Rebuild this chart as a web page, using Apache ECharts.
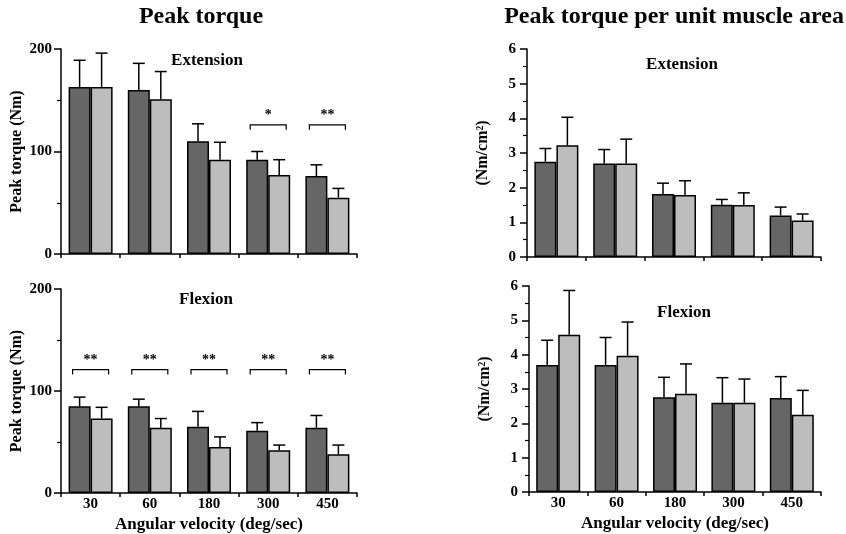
<!DOCTYPE html>
<html>
<head>
<meta charset="utf-8">
<script src="https://cdn.jsdelivr.net/npm/echarts@6/dist/echarts.min.js"></script>
<style>
body{margin:0;background:#fff}
#main{width:846px;height:534px}
</style>
</head>
<body>
<div id="main"></div>
<script>
var categories = ['30', '60', '180', '300', '450'];

// peak torque (Nm), dark bars / light bars, mean and SD
var extTorqueDark = [163, 160, 110, 92, 76];
var extTorqueDarkSD = [26, 26, 17, 8, 11];
var extTorqueLight = [163, 151, 92, 77, 55];
var extTorqueLightSD = [33, 27, 17, 15, 9];

var flexTorqueDark = [85, 85, 65, 61, 64];
var flexTorqueDarkSD = [9, 7, 15, 8, 12];
var flexTorqueLight = [73, 64, 45, 42, 38];
var flexTorqueLightSD = [11, 9, 10, 5, 9];

// peak torque per unit muscle area (Nm/cm2)
var extAreaDark = [2.75, 2.7, 1.82, 1.51, 1.2];
var extAreaDarkSD = [0.38, 0.4, 0.31, 0.15, 0.24];
var extAreaLight = [3.22, 2.7, 1.79, 1.5, 1.05];
var extAreaLightSD = [0.81, 0.7, 0.41, 0.35, 0.19];

var flexAreaDark = [3.7, 3.7, 2.76, 2.6, 2.74];
var flexAreaDarkSD = [0.72, 0.8, 0.58, 0.73, 0.62];
var flexAreaLight = [4.58, 3.97, 2.86, 2.6, 2.25];
var flexAreaLightSD = [1.29, 0.98, 0.87, 0.69, 0.71];

// significance marks
var extSig = ['', '', '', '*', '**'];
var extSigLevel = 126;
var flexSig = ['**', '**', '**', '**', '**'];
var flexSigLevel = 121;

var serif = '"Liberation Serif", "DejaVu Serif", serif';
var darkColor = '#666666';
var lightColor = '#bdbdbd';

function errData(mean, sd) {
  return mean.map(function (m, i) { return [i, m, m + sd[i]]; });
}

function errRender(offset) {
  return function (params, api) {
    var i = api.value(0);
    var base = api.coord([i, api.value(1)]);
    var top = api.coord([i, api.value(2)]);
    var cx = base[0] + offset;
    var st = { stroke: '#000', lineWidth: 1.5 };
    return {
      type: 'group',
      children: [
        { type: 'line', shape: { x1: cx, y1: base[1], x2: cx, y2: top[1] }, style: st },
        { type: 'line', shape: { x1: cx - 6, y1: top[1], x2: cx + 6, y2: top[1] }, style: st }
      ]
    };
  };
}

var sigLabels = { sigExt: extSig, sigFlex: flexSig };

function sigRender(params, api) {
  var i = api.value(0);
  var label = sigLabels[params.seriesId][i];
  if (!label) return;
  var p = api.coord([i, api.value(1)]);
  var st = { stroke: '#000', lineWidth: 1.2, fill: null };
  return {
    type: 'group',
    children: [
      { type: 'polyline', shape: { points: [[p[0] - 18, p[1] + 5], [p[0] - 18, p[1]], [p[0] + 18, p[1]], [p[0] + 18, p[1] + 5]] }, style: st },
      { type: 'text', style: { x: p[0], y: p[1] - 2, text: label, align: 'center', verticalAlign: 'bottom', font: 'bold 14px ' + serif, fill: '#000' } }
    ]
  };
}

function barSeries(idx, data, color) {
  return {
    type: 'bar', xAxisIndex: idx, yAxisIndex: idx, data: data,
    barWidth: 22, barGap: '0%',
    itemStyle: { color: color, borderColor: '#000', borderWidth: 1.5 },
    z: 2
  };
}

function errSeries(idx, mean, sd, offset) {
  return {
    type: 'custom', xAxisIndex: idx, yAxisIndex: idx,
    data: errData(mean, sd), renderItem: errRender(offset),
    encode: { x: 0, y: [1, 2] }, z: 1
  };
}

function xAxisOf(idx, showLabels) {
  return {
    type: 'category', gridIndex: idx, data: categories,
    axisLine: { lineStyle: { color: '#000', width: 1.5 } },
    axisTick: { show: true, length: 4, lineStyle: { color: '#000', width: 1.5 } },
    axisLabel: { show: showLabels, color: '#000', fontFamily: serif, fontWeight: 'bold', fontSize: 15, margin: 4 },
    name: showLabels ? 'Angular velocity (deg/sec)' : '',
    nameLocation: 'middle', nameGap: 23,
    nameTextStyle: { color: '#000', fontFamily: serif, fontWeight: 'bold', fontSize: 17 }
  };
}

function yAxisOf(idx, max, interval, name, labelGap) {
  return {
    type: 'value', gridIndex: idx, min: 0, max: max, interval: interval,
    splitLine: { show: false },
    axisLine: { show: true, lineStyle: { color: '#000', width: 1.5 } },
    axisTick: { show: true, length: 7, lineStyle: { color: '#000', width: 1.5 } },
    minorTick: { show: true, splitNumber: 2, length: 4, lineStyle: { color: '#000', width: 1.2 } },
    axisLabel: { color: '#000', fontFamily: serif, fontWeight: 'bold', fontSize: 15, margin: labelGap },
    name: name, nameLocation: 'middle', nameGap: 36, nameRotate: 90,
    nameTextStyle: { color: '#000', fontFamily: serif, fontWeight: 'bold', fontSize: 16 }
  };
}

function panelText(text, left, top, size) {
  return {
    text: text, left: left, top: top, textAlign: 'center',
    textStyle: { fontFamily: serif, fontWeight: 'bold', fontSize: size, color: '#000' }
  };
}

var myChart = echarts.init(document.getElementById('main'));
var option = {
  backgroundColor: '#fff',
  animation: false,
  title: [
    panelText('Peak torque', 196, 0, 24),
    panelText('Peak torque per unit muscle area', 669, 0, 24),
    panelText('Extension', 202, 47, 17),
    panelText('Flexion', 201, 286, 17),
    panelText('Extension', 677, 51, 17),
    panelText('Flexion', 679, 299, 17)
  ],
  grid: [
    { left: 61, top: 49, width: 296, height: 205 },
    { left: 61, top: 289, width: 296, height: 204 },
    { left: 527, top: 49, width: 294, height: 208 },
    { left: 529, top: 286, width: 292, height: 206 }
  ],
  xAxis: [xAxisOf(0, false), xAxisOf(1, true), xAxisOf(2, false), xAxisOf(3, true)],
  yAxis: [
    yAxisOf(0, 200, 100, 'Peak torque (Nm)', 9),
    yAxisOf(1, 200, 100, 'Peak torque (Nm)', 9),
    yAxisOf(2, 6, 1, '(Nm/cm²)', 11),
    yAxisOf(3, 6, 1, '(Nm/cm²)', 11)
  ],
  series: [
    barSeries(0, extTorqueDark, darkColor),
    barSeries(0, extTorqueLight, lightColor),
    errSeries(0, extTorqueDark, extTorqueDarkSD, -11),
    errSeries(0, extTorqueLight, extTorqueLightSD, 11),
    barSeries(1, flexTorqueDark, darkColor),
    barSeries(1, flexTorqueLight, lightColor),
    errSeries(1, flexTorqueDark, flexTorqueDarkSD, -11),
    errSeries(1, flexTorqueLight, flexTorqueLightSD, 11),
    barSeries(2, extAreaDark, darkColor),
    barSeries(2, extAreaLight, lightColor),
    errSeries(2, extAreaDark, extAreaDarkSD, -11),
    errSeries(2, extAreaLight, extAreaLightSD, 11),
    barSeries(3, flexAreaDark, darkColor),
    barSeries(3, flexAreaLight, lightColor),
    errSeries(3, flexAreaDark, flexAreaDarkSD, -11),
    errSeries(3, flexAreaLight, flexAreaLightSD, 11),
    {
      id: 'sigExt', type: 'custom', xAxisIndex: 0, yAxisIndex: 0,
      data: categories.map(function (c, i) { return [i, extSigLevel]; }),
      renderItem: sigRender, z: 3
    },
    {
      id: 'sigFlex', type: 'custom', xAxisIndex: 1, yAxisIndex: 1,
      data: categories.map(function (c, i) { return [i, flexSigLevel]; }),
      renderItem: sigRender, z: 3
    }
  ]
};
myChart.setOption(option);
</script>
</body>
</html>
